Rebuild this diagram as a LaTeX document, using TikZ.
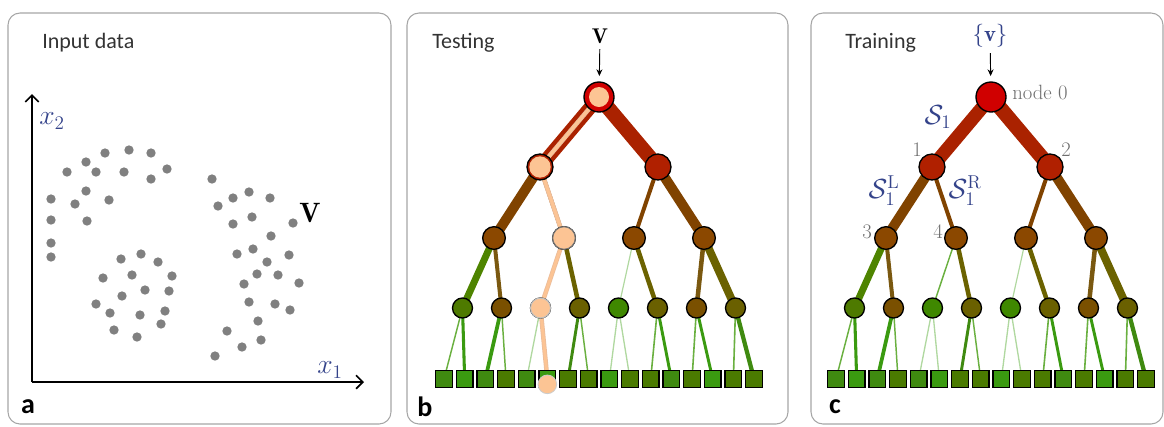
\documentclass[tikz,border=0pt]{standalone}
\usepackage{amsmath}
\usepackage{amssymb}
\usepackage{fontspec}
\usepackage{tikz}
\usepackage{xcolor}
\usetikzlibrary{arrows.meta}

\newfontfamily\panelfont{Carlito}

\definecolor{framegray}{HTML}{A6A6A6}
\definecolor{dotgray}{HTML}{808080}
\definecolor{mathblue}{HTML}{34438A}
\definecolor{labelgray}{HTML}{6E6E6E}
\definecolor{rootred}{HTML}{D00000}
\definecolor{splitred}{HTML}{B02000}
\definecolor{edgered}{HTML}{AA2200}
\definecolor{splitbrown}{HTML}{8B4800}
\definecolor{edgebrown}{HTML}{804300}
\definecolor{edgegreen}{HTML}{4E8400}
\definecolor{edgeolive}{HTML}{6B6200}
\definecolor{edgebrolive}{HTML}{7A5810}
\definecolor{nodegreen}{HTML}{4E7A00}
\definecolor{nodebrown}{HTML}{7A5000}
\definecolor{nodelgreen}{HTML}{3F8800}
\definecolor{nodeolive}{HTML}{6A6000}
\definecolor{leafgreen}{HTML}{3A9A10}
\definecolor{leafmid}{HTML}{3F8A10}
\definecolor{leafolive}{HTML}{4A7A00}
\definecolor{lightgreen}{HTML}{6AB040}
\definecolor{palegreen}{HTML}{B0D8A0}
\definecolor{peach}{HTML}{FCC494}
\definecolor{peachdark}{HTML}{E2A070}

\pgfdeclarelayer{background}
\pgfsetlayers{background,main}

% one decision tree, #1 = name prefix, #2 = x of the root
\newcommand{\drawforest}[2]{%
  \node[split0] (#1-0) at (#2,97) {};
  \foreach \i/\dx in {1/-59,2/59}
    \node[split1] (#1-\i) at ({#2+\dx},167) {};
  \foreach \i/\dx in {3/-105,4/-35,5/35,6/105}
    \node[split2] (#1-\i) at ({#2+\dx},238) {};
  \foreach \i/\dx/\col in {7/-136.5/nodegreen,8/-97.5/nodebrown,9/-58.5/nodelgreen,10/-19.5/nodeolive,
                           11/19.5/nodelgreen,12/58.5/nodeolive,13/97.5/nodebrown,14/136.5/nodeolive}
    \node[split3, fill=\col] (#1-\i) at ({#2+\dx},308) {};
  \foreach \k/\col in {0/leafmid,1/leafgreen,2/leafmid,3/leafolive,4/leafmid,5/leafgreen,6/leafolive,7/leafolive,
                       8/leafgreen,9/leafolive,10/leafolive,11/leafmid,12/leafolive,13/leafgreen,14/leafolive,15/leafolive}{
    \pgfmathtruncatemacro\i{15+\k}
    \node[leaf, fill=\col] (#1-\i) at ({#2-155+20.67*\k},379) {};
  }
  \begin{pgfonlayer}{background}
    \foreach \p/\c/\w/\col in {0/1/10/edgered,0/2/11/edgered,
                               1/3/7.5/edgebrown,1/4/3/edgebrown,2/5/3/edgebrown,2/6/7.5/edgebrown,
                               3/7/5.2/edgegreen,3/8/3/edgebrolive,4/9/1.1/lightgreen,4/10/3.4/edgeolive,
                               5/11/0.9/palegreen,5/12/3.4/edgeolive,6/13/3.4/edgebrolive,6/14/6/edgeolive,
                               7/15/1.1/lightgreen,7/16/2.3/leafgreen,8/17/2.8/leafgreen,8/18/1.1/lightgreen,
                               9/19/1/palegreen,9/20/1/palegreen,10/21/2.2/leafmid,10/22/1.1/lightgreen,
                               11/23/1/palegreen,11/24/1/palegreen,12/25/1.2/lightgreen,12/26/2.2/leafgreen,
                               13/27/1.2/lightgreen,13/28/2.2/leafgreen,14/29/1.2/lightgreen,14/30/3.2/leafmid}
      \draw[line width=\w pt, draw=\col] (#1-\p.center) -- (#1-\c.center);
  \end{pgfonlayer}
}

\begin{document}
\begin{tikzpicture}[x=0.75pt, y=-0.75pt,
    frame/.style={draw=framegray, line width=0.8pt, rounded corners=9pt},
    paneltitle/.style={anchor=west, inner sep=0pt, text=black!80, font=\panelfont\fontsize{16.5}{19}\selectfont},
    panelletter/.style={inner sep=0pt, font=\panelfont\bfseries\fontsize{21}{23}\selectfont},
    mathlabel/.style={inner sep=0pt, text=mathblue, font=\fontsize{20}{24}\selectfont},
    numlabel/.style={inner sep=0pt, text=labelgray, font=\fontsize{15.5}{18}\selectfont},
    axis/.style={line width=1.3pt, -{Straight Barb[length=5pt,width=10pt]}},
    feed/.style={line width=0.7pt, -{Stealth[length=5pt,width=4.5pt]}, shorten <=4pt, shorten >=4pt},
    tnode/.style={circle, draw=black, line width=1pt, inner sep=0pt},
    split0/.style={tnode, fill=rootred, minimum size=22.5pt},
    split1/.style={tnode, fill=splitred, minimum size=19.5pt},
    split2/.style={tnode, fill=splitbrown, minimum size=17pt},
    split3/.style={tnode, minimum size=15pt},
    leaf/.style={rectangle, draw=black, line width=0.9pt, minimum size=12.5pt, inner sep=0pt},
    hlnode/.style={circle, fill=peach, inner sep=0pt}]
\useasboundingbox (0,0) rectangle (1164,426);

% panel frames
\draw[frame] (8,13) rectangle (391,424);
\draw[frame] (407,13) rectangle (788,424);
\draw[frame] (811,13) rectangle (1163,424);

% (a) input data
\node[paneltitle] (ta) at (42,43) {Input data};
\node[panelletter] (la) at (28,407) {a};
\coordinate (origin) at (32,382);
\coordinate (xend) at (364,382);
\coordinate (yend) at (32,94);
\draw[axis] (origin) -- (xend);
\draw[axis] (origin) -- (yend);
\node[mathlabel] (xone) at (330,370) {$x_1$};
\node[mathlabel] (xtwo) at (52,121) {$x_2$};
\node[inner sep=0pt, font=\fontsize{21}{24}\selectfont] (va) at (310,213) {$\mathbf{V}$};
\foreach \x/\y in {105/153,129/150,151/153,86/162,67/172,96/172,124/172,151/179,167/169,51/199,86/191,
                   75/204,109/200,87/221,51/220,51/243,51/257,
                   121/259,141/254,158/262,103/278,132/275,172/276,145/290,122/296,169/291,96/304,110/313,
                   140/315,165/311,161/324,114/330,137/337,
                   212/179,218/206,233/198,249/192,270/198,233/224,252/217,293/223,271/236,237/254,253/249,
                   289/255,267/262,257/274,278/275,244/284,299/283,249/302,275/304,290/310,258/321,227/331,
                   261/340,242/347,215/356}
  \fill[dotgray] (\x,\y) circle (3.5pt);

% (b) testing
\node[paneltitle] (tb) at (432,43) {Testing};
\node[panelletter] (lb) at (425,407) {b};
\drawforest{b}{599}
\node[inner sep=0pt, font=\fontsize{16}{18}\selectfont] (vb) at (600,36) {$\mathbf{V}$};
\draw[feed] (vb) -- (b-0);
\begin{pgfonlayer}{background}
  \draw[line width=3.4pt, draw=peachdark!70, line join=round]
    (b-0.center) -- (b-1.center) -- (b-4.center) -- (b-9.center) -- (b-20.center);
  \draw[line width=2.2pt, draw=peach, line join=round]
    (b-0.center) -- (b-1.center) -- (b-4.center) -- (b-9.center) -- (b-20.center);
\end{pgfonlayer}
\node[hlnode, minimum size=15pt] (hl-0) at (b-0) {};
\node[hlnode, minimum size=16pt] (hl-1) at (b-1) {};
\node[hlnode, draw=black!55, line width=0.8pt, minimum size=17pt] (hl-4) at (b-4) {};
\node[hlnode, draw=black!25, line width=0.8pt, minimum size=15pt] (hl-9) at (b-9) {};
\node[hlnode, draw=black!20, line width=0.6pt, minimum size=14pt] (hl-20) at ([yshift=-4pt]b-20) {};

% (c) training
\node[paneltitle] (tc) at (845,43) {Training};
\node[panelletter] (lc) at (835,407) {c};
\drawforest{c}{991}
\node[mathlabel, font=\fontsize{17}{20}\selectfont] (vc) at (990,36) {$\{\mathbf{v}\}$};
\draw[feed] (vc) -- (c-0);
\node[numlabel, anchor=west] (n0) at (1012,92) {node 0};
\node[numlabel] (n1) at (917,150) {1};
\node[numlabel] (n2) at (1066,150) {2};
\node[numlabel] (n3) at (867,232) {3};
\node[numlabel] (n4) at (938,232) {4};
\node[mathlabel] (s1) at (938,117) {$\mathcal{S}_1$};
\node[mathlabel] (s1l) at (884,191) {$\mathcal{S}_1^{\mathrm{L}}$};
\node[mathlabel] (s1r) at (965,191) {$\mathcal{S}_1^{\mathrm{R}}$};
\end{tikzpicture}
\end{document}
